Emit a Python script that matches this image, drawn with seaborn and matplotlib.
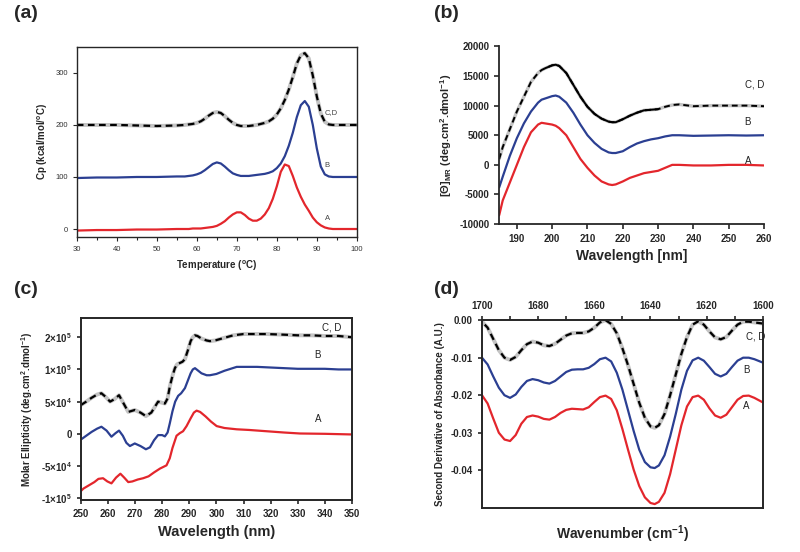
import matplotlib
matplotlib.use("Agg")
import matplotlib.pyplot as plt
import numpy as np
import pandas as pd
import seaborn as sns

# ── (a) DSC thermograms ───────────────────────────────────────────────────────
temp = [30, 35, 40, 45, 50, 55, 57, 58, 59, 60, 61, 62, 63, 64, 65, 66, 67, 68, 69, 70,
        71, 72, 73, 74, 75, 76, 77, 78, 79, 80, 81, 82, 83, 84, 85, 86, 87, 88, 89, 90,
        91, 92, 93, 94, 95, 97, 100]
cp_a = [-3, -2, -2, -1, -1, 0, 0, 0, 1, 1, 1, 2, 3, 4, 6, 10, 15, 22, 28, 32,
        32, 27, 20, 16, 16, 20, 28, 40, 58, 82, 110, 124, 121, 102, 80, 62, 47, 35, 22, 13,
        7, 3, 1, 0, 0, 0, 0]
cp_b = [98, 99, 99, 100, 100, 101, 101, 102, 103, 105, 108, 113, 119, 125, 128, 126, 120, 113, 107, 104,
        102, 102, 102, 103, 104, 105, 106, 108, 111, 117, 126, 140, 160, 185, 215, 238, 246, 235, 200, 155,
        120, 105, 101, 100, 100, 100, 100]
cp_cd = [200, 200, 200, 199, 198, 199, 200, 201, 202, 204, 207, 212, 218, 223, 225, 223, 217, 210, 204, 200,
         198, 198, 198, 199, 200, 202, 204, 207, 212, 220, 232, 248, 268, 292, 318, 334, 338, 328, 295, 255,
         222, 206, 201, 200, 200, 200, 200]

# ── (b) far-UV CD ─────────────────────────────────────────────────────────────
wl_far = [185, 186, 188, 190, 192, 194, 196, 197, 198, 200, 201, 202, 204, 206, 208, 210, 212, 214,
          216, 217, 218, 220, 222, 224, 226, 228, 230, 232, 234, 236, 240, 245, 250, 255, 260]
far_a = [-8500, -6000, -3000, 0, 3000, 5500, 6800, 7100, 7000, 6800, 6600, 6200, 5000, 3000, 1000,
         -500, -1800, -2800, -3300, -3400, -3300, -2800, -2200, -1800, -1400, -1200, -1000, -500,
         0, 0, -100, -100, 0, 0, -100]
far_b = [-3800, -2000, 1500, 4500, 7000, 9000, 10500, 11000, 11200, 11600, 11700, 11500, 10500, 8800,
         6800, 5000, 3700, 2700, 2100, 2000, 2000, 2300, 3000, 3600, 4000, 4300, 4500, 4800, 5000,
         5000, 4900, 4950, 5000, 4950, 5000]
far_cd = [1000, 3000, 6000, 9000, 11500, 14000, 15500, 16000, 16300, 16800, 16900, 16700, 15500, 13500,
          11500, 9800, 8600, 7800, 7300, 7200, 7200, 7700, 8300, 8800, 9200, 9300, 9400, 9800, 10100,
          10200, 9900, 10000, 10000, 10000, 9900]

# ── (c) near-UV CD ────────────────────────────────────────────────────────────
wl_a = [250, 251, 253, 255, 256.5, 258.2, 259.8, 261.3, 263, 264.6, 266, 267.5, 269, 271, 273, 275,
        277, 279.2, 281.6, 282.8, 283.8, 285.3, 286.5, 287.7, 289, 290.5, 291.7, 292.7, 294, 296,
        298, 300.1, 303, 307.5, 312, 318.5, 325, 330.8, 340, 345, 350]
near_a = [-8.9e4, -8.5e4, -8.0e4, -7.5e4, -7.0e4, -6.9e4, -7.4e4, -7.7e4, -6.8e4, -6.2e4, -6.8e4,
          -7.5e4, -7.4e4, -7.1e4, -6.9e4, -6.6e4, -6.0e4, -5.4e4, -4.9e4, -3.8e4, -2.2e4, -0.3e4,
          0.1e4, 0.4e4, 1.2e4, 2.4e4, 3.3e4, 3.6e4, 3.4e4, 2.7e4, 1.9e4, 1.2e4, 0.9e4, 0.7e4, 0.6e4,
          0.4e4, 0.2e4, 0.05e4, 0.0, -0.05e4, -0.1e4]
wl_b = [250, 252, 254, 256, 257.6, 259.5, 261.3, 262.8, 264.1, 265.5, 266.8, 268.1, 269.9, 272, 274,
        275.5, 277, 278.5, 280, 281, 282, 282.8, 283.8, 284.8, 285.9, 287, 288.4, 289.5, 290.5, 291.3,
        292.1, 293, 294.5, 296.4, 297.6, 300, 303, 307.5, 315, 320, 325, 330, 335, 340, 345, 350]
near_b = [-0.9e4, -0.3e4, 0.3e4, 0.8e4, 1.1e4, 0.5e4, -0.45e4, 0.1e4, 0.5e4, -0.3e4, -1.4e4, -1.9e4,
          -1.5e4, -1.9e4, -2.4e4, -2.1e4, -1.0e4, -0.2e4, -0.2e4, -0.4e4, 0.2e4, 1.6e4, 3.5e4, 5.0e4,
          5.9e4, 6.3e4, 7.1e4, 8.3e4, 9.4e4, 10.0e4, 10.2e4, 9.9e4, 9.4e4, 9.1e4, 9.1e4, 9.3e4, 9.8e4,
          10.4e4, 10.4e4, 10.3e4, 10.2e4, 10.1e4, 10.1e4, 10.1e4, 10.0e4, 10.0e4]
wl_cd = [250, 252, 254, 256, 257.6, 259, 260.8, 262.5, 264.1, 265.8, 267.5, 269.9, 272, 274, 276, 278.5,
         281, 282, 282.8, 283.8, 284.7, 285.5, 286.5, 287.5, 288.4, 289.5, 290.5, 291.3, 292.1, 293,
         294.5, 296.4, 297.6, 299.5, 302, 306.2, 310, 318.5, 325, 330, 335, 340, 345, 350]
near_cd = [4.46e4, 5.0e4, 5.6e4, 6.1e4, 6.3e4, 5.8e4, 5.0e4, 5.4e4, 6.0e4, 4.7e4, 3.4e4, 3.7e4, 3.3e4,
           2.75e4, 3.3e4, 5.0e4, 4.7e4, 5.5e4, 7.3e4, 9.0e4, 10.2e4, 10.8e4, 11.0e4, 11.2e4, 11.6e4,
           13.0e4, 14.4e4, 15.0e4, 15.3e4, 15.2e4, 14.8e4, 14.5e4, 14.4e4, 14.5e4, 14.8e4, 15.3e4,
           15.5e4, 15.5e4, 15.4e4, 15.3e4, 15.3e4, 15.2e4, 15.2e4, 15.0e4]
near_ticks = [-1e5, -5e4, 0, 5e4, 1e5, 1.5e5]
near_ticklabels = ["-1×10$^5$", "-5×10$^4$", "0", "5×10$^4$", "1×10$^5$", "2×10$^5$"]

# ── (d) FTIR second derivative ────────────────────────────────────────────────
wn = [1700, 1698, 1696, 1694, 1692, 1690, 1688, 1686, 1684, 1682, 1680, 1678, 1676, 1674, 1672,
      1670, 1668, 1666, 1664, 1662, 1660, 1658, 1656, 1654, 1652, 1650, 1648, 1646, 1644, 1642,
      1640, 1638.5, 1637, 1635, 1633, 1631, 1629, 1627, 1625, 1623, 1621, 1619, 1617, 1615, 1613,
      1611, 1609, 1607, 1605, 1603, 1601, 1600]
ir_cd = [-0.0004, -0.0020, -0.0050, -0.0080, -0.0100, -0.0106, -0.0098, -0.0080, -0.0064, -0.0057,
         -0.0060, -0.0067, -0.0069, -0.0063, -0.0052, -0.0041, -0.0035, -0.0034, -0.0034, -0.0030,
         -0.0020, -0.0006, 0.0000, -0.0010, -0.0035, -0.0075, -0.0120, -0.0170, -0.0220, -0.0260,
         -0.0283, -0.0287, -0.0280, -0.0250, -0.0200, -0.0145, -0.0090, -0.0045, -0.0012, -0.0003,
         -0.0012, -0.0030, -0.0046, -0.0051, -0.0045, -0.0028, -0.0012, -0.0004, -0.0004, -0.0006,
         -0.0008, -0.0009]
ir_b = [-0.0100, -0.0118, -0.0150, -0.0180, -0.0200, -0.0207, -0.0198, -0.0178, -0.0162, -0.0157,
        -0.0160, -0.0166, -0.0169, -0.0162, -0.0150, -0.0138, -0.0132, -0.0131, -0.0131, -0.0127,
        -0.0117, -0.0104, -0.0100, -0.0110, -0.0140, -0.0185, -0.0240, -0.0295, -0.0345, -0.0378,
        -0.0392, -0.0394, -0.0387, -0.0360, -0.0310, -0.0250, -0.0185, -0.0135, -0.0107, -0.0100,
        -0.0108, -0.0125, -0.0143, -0.0150, -0.0143, -0.0125, -0.0108, -0.0100, -0.0100, -0.0104,
        -0.0110, -0.0113]
ir_a = [-0.0200, -0.0222, -0.0262, -0.0300, -0.0318, -0.0322, -0.0306, -0.0276, -0.0258, -0.0254,
        -0.0257, -0.0263, -0.0265, -0.0258, -0.0247, -0.0239, -0.0236, -0.0237, -0.0238, -0.0232,
        -0.0218, -0.0205, -0.0201, -0.0210, -0.0240, -0.0290, -0.0345, -0.0398, -0.0442, -0.0472,
        -0.0487, -0.0490, -0.0484, -0.0460, -0.0410, -0.0345, -0.0280, -0.0230, -0.0205, -0.0201,
        -0.0212, -0.0235, -0.0254, -0.0260, -0.0252, -0.0232, -0.0212, -0.0202, -0.0201, -0.0207,
        -0.0215, -0.0219]

RED = "#e3262c"
BLUE = "#2b3f92"
GREY = "#c4c4c4"

sns.set_style("ticks")
plt.rcParams["font.family"] = ["Liberation Sans", "DejaVu Sans"]
plt.rcParams["mathtext.default"] = "regular"
plt.rcParams["axes.unicode_minus"] = False

fig = plt.figure(figsize=(8, 5.52), dpi=100)


def draw_set(ax, x_a, y_a, x_b, y_b, x_cd, y_cd, lw=1.6):
    sns.lineplot(x=x_a, y=y_a, ax=ax, color=RED, lw=lw)
    sns.lineplot(x=x_b, y=y_b, ax=ax, color=BLUE, lw=lw)
    sns.lineplot(x=x_cd, y=y_cd, ax=ax, color=GREY, lw=lw + 1.2)
    sns.lineplot(x=x_cd, y=y_cd, ax=ax, color="black", lw=lw, linestyle=(0, (3, 2)))


# (a)
ax = fig.add_axes([0.096, 0.571, 0.350, 0.344])
draw_set(ax, temp, cp_a, temp, cp_b, temp, cp_cd)
ax.set_xlim(30, 100)
ax.set_ylim(-15, 350)
ax.set_xticks(range(30, 101, 10))
ax.set_xticks(range(35, 100, 10), minor=True)
ax.set_yticks([0, 100, 200, 300])
ax.tick_params(labelsize=5.5, labelcolor="#333333", length=3, width=0.8)
ax.tick_params(which="minor", length=2, width=0.8)
for s in ax.spines.values():
    s.set_linewidth(1.0)
ax.set_xlabel("Temperature ($^o$C)", fontsize=7, fontweight="bold", labelpad=4)
ax.set_ylabel("Cp (kcal/mol/$^o$C)", fontsize=7, fontweight="bold", labelpad=4)
for txt, xx, yy in [("C,D", 92, 223), ("B", 92, 122), ("A", 92, 20)]:
    ax.text(xx, yy, txt, fontsize=5.5, color="#444444", va="center")

# (b)
ax = fig.add_axes([0.624, 0.594, 0.331, 0.322])
sns.lineplot(x=wl_far, y=far_a, ax=ax, color=RED, lw=1.6)
sns.lineplot(x=wl_far, y=far_b, ax=ax, color=BLUE, lw=1.6)
sns.lineplot(x=wl_far, y=far_cd, ax=ax, color=GREY, lw=2.4)
sns.lineplot(x=wl_far, y=far_cd, ax=ax, color="black", lw=1.4, linestyle=(0, (3, 2)))
mid = (np.array(wl_far) >= 198) & (np.array(wl_far) <= 230)
sns.lineplot(x=np.array(wl_far)[mid], y=np.array(far_cd)[mid], ax=ax, color="black", lw=1.4)
ax.set_xlim(185, 260)
ax.set_ylim(-10000, 20000)
ax.set_xticks(range(190, 261, 10))
ax.set_yticks(range(-10000, 20001, 5000))
sns.despine(ax=ax)
for s in ax.spines.values():
    s.set_linewidth(1.3)
ax.tick_params(labelsize=7, length=3.5, width=1.2)
for lab in ax.get_xticklabels() + ax.get_yticklabels():
    lab.set_fontweight("bold")
ax.set_xlabel("Wavelength [nm]", fontsize=10, fontweight="bold")
ax.set_ylabel("[Θ]$_{MR}$ (deg.cm$^2$.dmol$^{-1}$)", fontsize=8, fontweight="bold")
for txt, xx, yy in [("C, D", 254.5, 13500), ("B", 254.5, 7300), ("A", 254.5, 700)]:
    ax.text(xx, yy, txt, fontsize=7, color="#222222", va="center")

# (c)
ax = fig.add_axes([0.101, 0.094, 0.339, 0.330])
draw_set(ax, wl_a, near_a, wl_b, near_b, wl_cd, near_cd)
ax.set_xlim(250, 350)
ax.set_ylim(-1.03e5, 1.8e5)
ax.set_xticks(range(250, 351, 10))
ax.set_yticks(near_ticks)
ax.set_yticklabels(near_ticklabels)
for s in ax.spines.values():
    s.set_linewidth(1.4)
ax.tick_params(labelsize=7, length=3, width=1.2)
for lab in ax.get_xticklabels() + ax.get_yticklabels():
    lab.set_fontweight("bold")
ax.set_xlabel("Wavelength (nm)", fontsize=10.5, fontweight="bold")
ax.set_ylabel("Molar Ellipticity (deg.cm$^2$.dmol$^{-1}$)", fontsize=7, fontweight="bold")
for txt, xx, yy in [("C, D", 339, 1.65e5), ("B", 336, 1.23e5), ("A", 336.5, 2.3e4)]:
    ax.text(xx, yy, txt, fontsize=7, color="#222222", va="center")

# (d)
ax = fig.add_axes([0.6025, 0.080, 0.351, 0.340])
draw_set(ax, wn, ir_a, wn, ir_b, wn, ir_cd)
ax.set_xlim(1700, 1600)
ax.set_ylim(-0.05, 0)
ax.xaxis.tick_top()
ax.set_xticks(range(1700, 1599, -20))
ax.set_xticks(range(1690, 1600, -20), minor=True)
ax.set_yticks([0, -0.01, -0.02, -0.03, -0.04])
ax.set_yticklabels(["0.00", "-0.01", "-0.02", "-0.03", "-0.04"])
for s in ax.spines.values():
    s.set_linewidth(1.4)
ax.tick_params(labelsize=7, length=3, width=1.2)
ax.tick_params(which="minor", top=True, length=3, width=1.2)
for lab in ax.get_xticklabels() + ax.get_yticklabels():
    lab.set_fontweight("bold")
ax.xaxis.set_label_position("bottom")
ax.set_xlabel("Wavenumber (cm$^{-1}$)", fontsize=10, fontweight="bold", labelpad=11)
ax.set_ylabel("Second Derivative of Absorbance (A.U.)", fontsize=7, fontweight="bold")
for txt, xx, yy in [("C, D", 1606, -0.0044), ("B", 1607, -0.0132), ("A", 1607, -0.0228)]:
    ax.text(xx, yy, txt, fontsize=7, color="#222222", va="center")

for lbl, xx, yy in [("(a)", 0.018, 0.975), ("(b)", 0.543, 0.975), ("(c)", 0.018, 0.475), ("(d)", 0.543, 0.475)]:
    fig.text(xx, yy, lbl, fontsize=14, fontweight="bold", va="center")

fig.savefig("out.png", dpi=100)
